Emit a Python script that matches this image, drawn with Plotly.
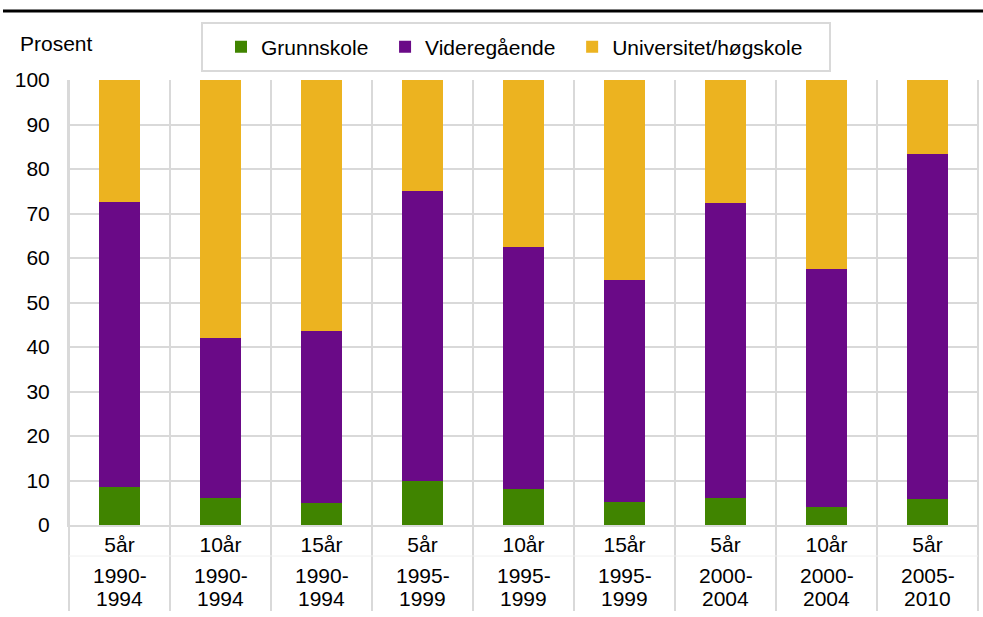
import plotly.graph_objects as go

# ---- data ----
lengths = ["5år", "10år", "15år", "5år", "10år", "15år", "5år", "10år", "5år"]
periods = ["1990-1994", "1990-1994", "1990-1994", "1995-1999", "1995-1999",
           "1995-1999", "2000-2004", "2000-2004", "2005-2010"]
grunnskole = [8.6, 6.1, 5.0, 10.0, 8.2, 5.2, 6.1, 4.1, 5.8]
videregaende = [63.9, 36.0, 38.7, 65.1, 54.3, 49.9, 66.3, 53.4, 77.6]
universitet = [27.5, 57.9, 56.3, 24.9, 37.5, 44.9, 27.6, 42.5, 16.6]
series_names = ["Grunnskole", "Videregående", "Universitet/høgskole"]
colors = ["#408400", "#6A0A87", "#ECB320"]
y_label = "Prosent"

# ---- layout constants ----
W, H = 983, 617
ML, MR, MT, MB = 69, 5, 80, 92
PW, PH = W - ML - MR, H - MT - MB
GRID = "#d9d9d9"
FONT = "Liberation Sans, Arial, sans-serif"
FS = 21


def px_x(px):
    return (px - ML) / PW


def px_y(py):
    return (H - MB - py) / PH


n = len(lengths)
x = list(range(n))

fig = go.Figure()
pad = "\u00a0\u00a0"
for name, vals, col, suffix in zip(series_names, [grunnskole, videregaende, universitet],
                                   colors, [pad, pad, ""]):
    fig.add_trace(go.Bar(x=x, y=vals, name=name + suffix, marker_color=col,
                         marker_line_width=0, width=0.4))

shapes = []
# vertical category boundary lines (through plot + label area)
for i in range(n + 1):
    shapes.append(dict(type="line", xref="x domain", yref="paper",
                       x0=i / n, x1=i / n, y0=px_y(611), y1=1,
                       line=dict(color=GRID, width=2), layer="below"))
# faint separator between label rows
shapes.append(dict(type="line", xref="paper", yref="paper", x0=0, x1=1,
                   y0=px_y(556), y1=px_y(556), line=dict(color="#f0f0f0", width=1),
                   layer="below"))
# legend box
shapes.append(dict(type="rect", xref="paper", yref="paper",
                   x0=px_x(202), x1=px_x(830), y0=px_y(71), y1=px_y(23),
                   line=dict(color=GRID, width=2), fillcolor="white", layer="below"))
# top black rule
shapes.append(dict(type="line", xref="paper", yref="paper",
                   x0=px_x(3), x1=px_x(983), y0=px_y(11), y1=px_y(11),
                   line=dict(color="black", width=3)))

annotations = [dict(text=y_label, xref="paper", yref="paper", x=px_x(18), y=px_y(44),
                    xanchor="left", yanchor="middle", showarrow=False,
                    font=dict(size=FS, color="#000", family=FONT))]
for i, p in enumerate(periods):
    a, b = p.split("-")
    annotations.append(dict(text=a + "-", xref="x", yref="paper", x=i, y=0, yshift=-50,
                            xanchor="center", yanchor="middle", showarrow=False,
                            font=dict(size=FS, color="#000", family=FONT)))
    annotations.append(dict(text=b, xref="x", yref="paper", x=i, y=0, yshift=-73,
                            xanchor="center", yanchor="middle", showarrow=False,
                            font=dict(size=FS, color="#000", family=FONT)))

fig.update_layout(
    width=W, height=H,
    margin=dict(l=ML, r=MR, t=MT, b=MB, autoexpand=False),
    barmode="stack",
    plot_bgcolor="white", paper_bgcolor="white",
    font=dict(family=FONT, size=FS, color="#000"),
    showlegend=True,
    legend=dict(orientation="h", xref="container", yref="container",
                x=221 / W, y=1 - 47 / H, xanchor="left", yanchor="middle",
                traceorder="normal",
                bgcolor="rgba(0,0,0,0)", borderwidth=0,
                font=dict(size=FS, family=FONT, color="#000")),
    xaxis=dict(range=[-0.5, n - 0.5], tickmode="array", tickvals=x, ticktext=lengths,
               showgrid=False, zeroline=False, ticks="", showline=True, automargin=False,
               linecolor=GRID, linewidth=2, tickfont=dict(size=FS)),
    yaxis=dict(range=[0, 100], dtick=10, tick0=0, showgrid=True, gridcolor=GRID,
               gridwidth=2, zeroline=False, ticks="", showline=True, linecolor=GRID,
               automargin=False,
               linewidth=2, ticklabelstandoff=13, tickfont=dict(size=FS)),
    shapes=shapes,
    annotations=annotations,
)

fig.write_html("out.html", config={"displayModeBar": False},
               post_script="document.body.style.margin='0';document.body.style.overflow='hidden';")
